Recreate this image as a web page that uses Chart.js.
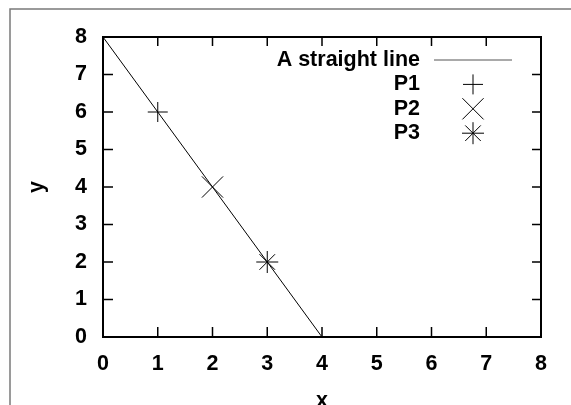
<!DOCTYPE html>
<html lang="en">
<head>
    <meta charset="UTF-8">
    <title>A straight line</title>
    <script src="https://cdn.jsdelivr.net/npm/chart.js"></script>
    <style>
        html, body { margin: 0; padding: 0; background: #fff; }
        #wrap { width: 571px; height: 405px; position: relative; }
    </style>
</head>
<body>
    <div id="wrap"><canvas id="plot"></canvas></div>

    <script>
        // line through (0,8) and (4,0)
        const lineLabel = "A straight line";
        const lineX = [0, 4];
        const lineY = [8, 0];

        // single marked points
        const pointLabels = ["P1", "P2", "P3"];
        const pointX = [1, 2, 3];
        const pointY = [6, 4, 2];
        const pointStyles = ["cross", "crossRot", "star"];
        const pointSizes = [10, 15, 11];

        const axisMin = 0, axisMax = 8;
        const tickValues = [0, 1, 2, 3, 4, 5, 6, 7, 8];

        const FONT = { family: "'Liberation Sans', Arial, sans-serif", size: 21.5, weight: "bold" };

        const datasets = [{
            type: "line",
            label: lineLabel,
            data: lineX.map((x, i) => ({ x: x, y: lineY[i] })),
            borderColor: "#000",
            borderWidth: 1,
            pointRadius: 0,
            fill: false
        }];
        pointLabels.forEach((lbl, i) => {
            datasets.push({
                type: "scatter",
                label: lbl,
                data: [{ x: pointX[i], y: pointY[i] }],
                pointStyle: pointStyles[i],
                pointRadius: pointSizes[i],
                pointBorderColor: "#000",
                pointBorderWidth: 1,
                pointHoverRadius: pointSizes[i]
            });
        });

        // gray page frame, plot box with inward ticks, and the key
        const framePlugin = {
            id: "frame",
            beforeDraw(chart) {
                const ctx = chart.ctx;
                ctx.save();
                ctx.strokeStyle = "#7a7a7a";
                ctx.lineWidth = 1.5;
                ctx.beginPath();
                ctx.moveTo(10, 405);
                ctx.lineTo(10, 9);
                ctx.lineTo(571, 9);
                ctx.stroke();
                ctx.restore();
            },
            afterDraw(chart) {
                const ctx = chart.ctx;
                const a = chart.chartArea;
                const xs = chart.scales.x, ys = chart.scales.y;
                ctx.save();
                ctx.strokeStyle = "#000";
                ctx.lineWidth = 1.5;
                ctx.beginPath();
                tickValues.forEach(v => {
                    const px = xs.getPixelForValue(v);
                    ctx.moveTo(px, a.bottom); ctx.lineTo(px, a.bottom - 10);
                    ctx.moveTo(px, a.top); ctx.lineTo(px, a.top + 9);
                    const py = ys.getPixelForValue(v);
                    ctx.moveTo(a.left, py); ctx.lineTo(a.left + 10, py);
                    ctx.moveTo(a.right, py); ctx.lineTo(a.right - 9, py);
                });
                ctx.stroke();
                ctx.lineWidth = 2;
                ctx.strokeRect(a.left, a.top, a.right - a.left, a.bottom - a.top);

                // key
                ctx.font = FONT.weight + " " + FONT.size + "px " + FONT.family;
                ctx.fillStyle = "#000";
                ctx.textAlign = "right";
                ctx.textBaseline = "middle";
                const textRight = 420, sampleL = 434, sampleR = 512;
                const rowY = i => 60 + i * 24.4;
                chart.data.datasets.forEach((ds, i) => {
                    const y = rowY(i);
                    ctx.fillText(ds.label, textRight, y);
                    ctx.strokeStyle = "#000";
                    ctx.lineWidth = 1;
                    if (ds.type === "line") {
                        ctx.strokeStyle = "#555";
                        ctx.beginPath();
                        ctx.moveTo(sampleL, y);
                        ctx.lineTo(sampleR, y);
                        ctx.stroke();
                    } else {
                        Chart.helpers.drawPoint(ctx, {
                            pointStyle: ds.pointStyle,
                            radius: ds.pointRadius,
                            rotation: 0,
                            borderWidth: 1
                        }, (sampleL + sampleR) / 2, y);
                    }
                });
                ctx.restore();
            }
        };

        new Chart(document.getElementById("plot"), {
            data: { datasets: datasets },
            options: {
                responsive: true,
                maintainAspectRatio: false,
                animation: false,
                events: [],
                layout: { padding: { top: 37, right: 30, left: 0, bottom: 0 } },
                plugins: {
                    legend: { display: false },
                    tooltip: { enabled: false }
                },
                scales: {
                    x: {
                        type: "linear",
                        min: axisMin,
                        max: axisMax,
                        grid: { display: false },
                        border: { display: false },
                        afterFit(scale) { scale.height = 68; },
                        afterBuildTicks(scale) { scale.ticks = tickValues.map(v => ({ value: v })); },
                        ticks: { color: "#000", font: FONT, padding: 6, autoSkip: false, maxRotation: 0 },
                        title: { display: true, text: "x", color: "#000", font: FONT, padding: { top: 0, bottom: -9 } }
                    },
                    y: {
                        type: "linear",
                        min: axisMin,
                        max: axisMax,
                        grid: { display: false },
                        border: { display: false },
                        afterFit(scale) { scale.width = 103; },
                        afterBuildTicks(scale) { scale.ticks = tickValues.map(v => ({ value: v })); },
                        ticks: { color: "#000", font: FONT, padding: 8, autoSkip: false },
                        title: { display: true, text: "y", color: "#000", font: FONT, padding: { top: 24, bottom: 0 } }
                    }
                }
            },
            plugins: [framePlugin]
        });
    </script>
</body>
</html>
